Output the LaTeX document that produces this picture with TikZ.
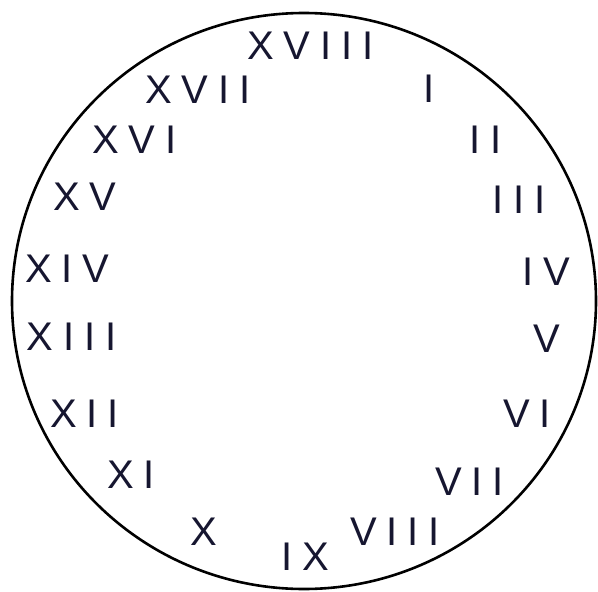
\documentclass[tikz,border=0pt]{standalone}
\usepackage{fontspec}
\newfontfamily\numfont[LetterSpace=25]{Liberation Sans}
\definecolor{numcol}{RGB}{22,22,48}
\begin{document}
\begin{tikzpicture}[x=1pt,y=-1pt,
  num/.style={anchor=base west,inner sep=0pt,outer sep=0pt,font=\numfont\fontsize{40}{40}\selectfont,text=numcol},
  rim/.style={draw=black,line width=2.6pt}]
\useasboundingbox[fill=white] (0,0) rectangle (598,592);
\draw[rim] (304,301) ellipse [x radius=292,y radius=288];
\node[num] (n18) at (247,59) {XVIII};
\node[num] (n1) at (423.4,102) {I};
\node[num] (n2) at (469.4,153) {II};
\node[num] (n3) at (492.4,213) {III};
\node[num] (n4) at (522.4,285) {IV};
\node[num] (n5) at (533,352) {V};
\node[num] (n6) at (503,427) {VI};
\node[num] (n7) at (435,495) {VII};
\node[num] (n8) at (350,545) {VIII};
\node[num] (n9) at (281.4,570) {IX};
\node[num] (n10) at (190,545) {X};
\node[num] (n11) at (107,488) {XI};
\node[num] (n12) at (50,427) {XII};
\node[num] (n13) at (27,350) {XIII};
\node[num] (n14) at (25,282) {XIV};
\node[num] (n15) at (53,210) {XV};
\node[num] (n16) at (92,153) {XVI};
\node[num] (n17) at (145,103) {XVII};
\end{tikzpicture}
\end{document}
